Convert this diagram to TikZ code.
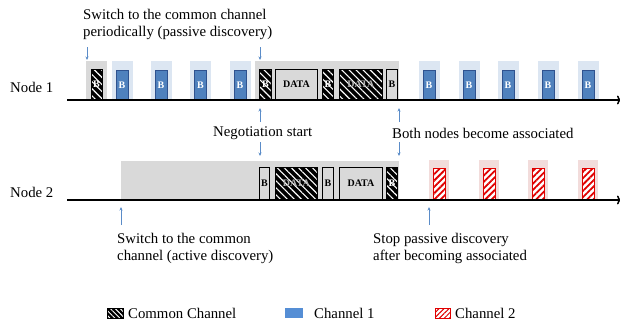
\documentclass[tikz,border=0pt]{standalone}
\usepackage{fontspec}
\setmainfont{Liberation Serif}
\usetikzlibrary{patterns.meta,arrows.meta}
\definecolor{gbg}{HTML}{D9D9D9}
\definecolor{bbg}{HTML}{DCE6F2}
\definecolor{bfill}{HTML}{4F81BD}
\definecolor{bdraw}{HTML}{2F528F}
\definecolor{rbg}{HTML}{F2DCDB}
\definecolor{rline}{HTML}{E00000}
\definecolor{arr}{HTML}{5B8CC8}
\definecolor{legblue}{HTML}{558ED5}
\tikzset{
  lbl/.style={font=\fontsize{14.8}{17}\selectfont, inner sep=0pt, align=left, anchor=west},
  bgbox/.style={draw=none, inner sep=0pt, anchor=south},
  grayarea/.style={bgbox, fill=gbg},
  bluearea/.style={bgbox, fill=bbg},
  redarea/.style={bgbox, fill=rbg},
  boxbase/.style={inner sep=0pt, font=\bfseries\fontsize{10}{10}\selectfont},
  comm/.style={boxbase, draw=black, line width=0.8pt, preaction={fill=black},
    pattern={Lines[angle=-45,distance=5pt,line width=1.1pt]}, pattern color=white, text=white},
  graybox/.style={boxbase, draw=black, line width=0.9pt, fill=gbg, text=black},
  bluebox/.style={boxbase, draw=bdraw, line width=0.8pt, fill=bfill, text=white},
  redbox/.style={boxbase, draw=rline, line width=1pt, preaction={fill=white},
    pattern={Lines[angle=45,distance=4.5pt,line width=1.8pt]}, pattern color=rline},
  axis/.style={line width=1.5pt, -{To[length=4pt,width=9pt]}},
  note/.style={draw=arr, line width=0.7pt, -{Stealth[length=3.5pt,width=3pt]}},
}
\begin{document}
\begin{tikzpicture}[x=1pt,y=-1pt]
\useasboundingbox (0,0) rectangle (620,322);

% ---------- Node 1 ----------
\node[lbl] (node1) at (10,87) {Node 1};
\node[grayarea, minimum width=21pt, minimum height=39pt] (n1g1) at (96.5,100) {};
\node[grayarea, minimum width=144pt, minimum height=39pt] (n1g2) at (327,100) {};
\foreach \c [count=\i] in {122,161,200.5,240,429,469,508,548,588}{
  \node[bluearea, minimum width=21pt, minimum height=39pt] (n1bb\i) at (\c,100) {};
  \node[bluebox, anchor=south, minimum width=12pt, minimum height=29pt] (n1b\i) at (\c,100) {B};
}
\node[comm, anchor=south, minimum width=11pt, minimum height=30pt] (n1c0) at (96.5,100) {B};
\node[comm, anchor=south west, minimum width=12pt, minimum height=30pt] (n1c1) at (259,100) {B};
\node[graybox, anchor=south west, minimum width=42pt, minimum height=30pt] (n1d1) at (275,100) {DATA};
\node[comm, anchor=south west, minimum width=11pt, minimum height=30pt] (n1c2) at (322,100) {B};
\node[comm, anchor=south west, minimum width=43pt, minimum height=30pt, text=gray!60] (n1d2) at (339,100) {DATA};
\node[graybox, anchor=south west, minimum width=11pt, minimum height=30pt] (n1b0) at (386,100) {B};
\coordinate (ax1s) at (67,100);
\coordinate (ax1e) at (621,100);
\draw[axis] (ax1s) -- (ax1e);

% ---------- Node 2 ----------
\node[lbl] (node2) at (10,192) {Node 2};
\node[grayarea, minimum width=278pt, minimum height=39pt] (n2g) at (260,200) {};
\foreach \c [count=\i] in {439,489,538,588}{
  \node[redarea, minimum width=20pt, minimum height=40pt] (n2rb\i) at (\c,200) {};
  \node[redbox, anchor=south, minimum width=12pt, minimum height=31pt] (n2r\i) at (\c,200) {};
}
\node[graybox, anchor=south west, minimum width=10pt, minimum height=32pt] (n2b1) at (259,200) {B};
\node[comm, anchor=south west, minimum width=42pt, minimum height=32pt, text=gray!60] (n2d1) at (275,200) {DATA};
\node[graybox, anchor=south west, minimum width=11pt, minimum height=32pt] (n2b2) at (322,200) {B};
\node[graybox, anchor=south west, minimum width=43pt, minimum height=32pt] (n2d2) at (339,200) {DATA};
\node[comm, anchor=south west, minimum width=11pt, minimum height=32pt] (n2c1) at (386,200) {B};
\coordinate (ax2s) at (67,200);
\coordinate (ax2e) at (621,200);
\draw[axis] (ax2s) -- (ax2e);

% ---------- annotations ----------
\node[lbl] (t1) at (83,24) {Switch to the common channel\\periodically (passive discovery)};
\coordinate (p1a) at (87,47);  \coordinate (p1b) at (87,60);
\coordinate (p2a) at (260,47); \coordinate (p2b) at (260,60);
\draw[note] (p1a) -- (p1b);
\draw[note] (p2a) -- (p2b);

\node[lbl] (t2) at (213,133) {Negotiation start};
\coordinate (q1a) at (260,122); \coordinate (q1b) at (260,108);
\coordinate (q2a) at (260,142); \coordinate (q2b) at (260,156);
\draw[note] (q1a) -- (q1b);
\draw[note] (q2a) -- (q2b);

\node[lbl] (t3) at (392,133) {Both nodes become associated};
\coordinate (r1a) at (399,122); \coordinate (r1b) at (399,108);
\coordinate (r2a) at (399,142); \coordinate (r2b) at (399,156);
\draw[note] (r1a) -- (r1b);
\draw[note] (r2a) -- (r2b);

\node[lbl] (t4) at (117,248) {Switch to the common\\channel (active discovery)};
\coordinate (s1a) at (121,225); \coordinate (s1b) at (121,207);
\draw[note] (s1a) -- (s1b);

\node[lbl] (t5) at (373,248) {Stop passive discovery\\after becoming associated};
\coordinate (u1a) at (429,225); \coordinate (u1b) at (429,207);
\draw[note] (u1a) -- (u1b);

% ---------- legend ----------
\node[comm, minimum width=16pt, minimum height=10pt, line width=0.5pt,
  pattern={Lines[angle=-45,distance=3.5pt,line width=1pt]}] (lg1) at (115,313) {};
\node[lbl] (lg1t) at (128,313) {Common Channel};
\node[fill=legblue, inner sep=0pt, minimum width=18pt, minimum height=10pt] (lg2) at (294,313) {};
\node[lbl] (lg2t) at (314,313) {Channel 1};
\node[redbox, minimum width=15pt, minimum height=10pt,
  pattern={Lines[angle=45,distance=3.5pt,line width=1pt]}] (lg3) at (442.5,313) {};
\node[lbl] (lg3t) at (455,313) {Channel 2};
\end{tikzpicture}
\end{document}
